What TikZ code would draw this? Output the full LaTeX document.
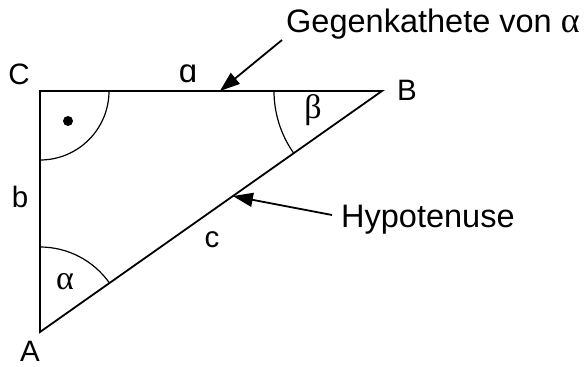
\documentclass[tikz,border=0pt]{standalone}
\usepackage{fontspec}
\setmainfont{Liberation Sans}
\newfontfamily\grk{Liberation Serif}
\usetikzlibrary{arrows.meta,calc}
\begin{document}
\begin{tikzpicture}[x=1pt,y=1pt,
  side/.style={line width=1.8pt, line join=miter},
  arcline/.style={line width=1.2pt},
  lbl/.style={font=\fontsize{29.5}{29.5}\selectfont, inner sep=0pt},
  note/.style={font=\fontsize{32.5}{32.5}\selectfont, inner sep=0pt},
  greek/.style={font=\fontsize{34}{34}\selectfont\grk, inner sep=0pt},
  pointer/.style={line width=1.8pt, -{Triangle[length=20pt,width=14pt]}}]
\useasboundingbox (0,0) rectangle (584,367);
\coordinate (A) at (40,35);
\coordinate (B) at (382,276);
\coordinate (C) at (40,276);
% triangle
\draw[side] (A) -- (C) -- (B) -- cycle;
% angle marks
\draw[arcline] (109,276) arc[start angle=0, end angle=-90, radius=69];
\fill (68,246) circle[radius=5];
\draw[arcline] (40,120) arc[start angle=90, end angle=35.17, radius=85];
\draw[arcline] (274,276) arc[start angle=180, end angle=215.17, radius=108];
% labels
\node[lbl] (lC) at (19,293) {C};
\node[lbl] (lB) at (407,277) {B};
\node[lbl] (lA) at (30,16) {A};
\node[lbl, font=\fontsize{33}{33}\selectfont] (la) at (188,293) {ɑ};
\node[lbl] (lb) at (20,170) {b};
\node[lbl] (lc) at (212,127) {c};
\node[greek] (alpha) at (65,85) {α};
\node[greek] (beta) at (313,257) {β};
% annotations
\node[note, anchor=base west] (geg) at (286,334) {Gegenkathete von {\fontsize{36}{36}\selectfont\grk α}};
\node[note, anchor=base west] (hyp) at (341,139) {Hypotenuse};
\coordinate (gegtail) at (282,327);
\coordinate (hyptail) at (332,152);
\coordinate (gegtip) at ($(C)!0.526!(B)$);
\coordinate (hyptip) at ($(A)!0.564!(B)$);
\draw[pointer] (gegtail) -- (gegtip);
\draw[pointer] (hyptail) -- (hyptip);
\end{tikzpicture}
\end{document}
